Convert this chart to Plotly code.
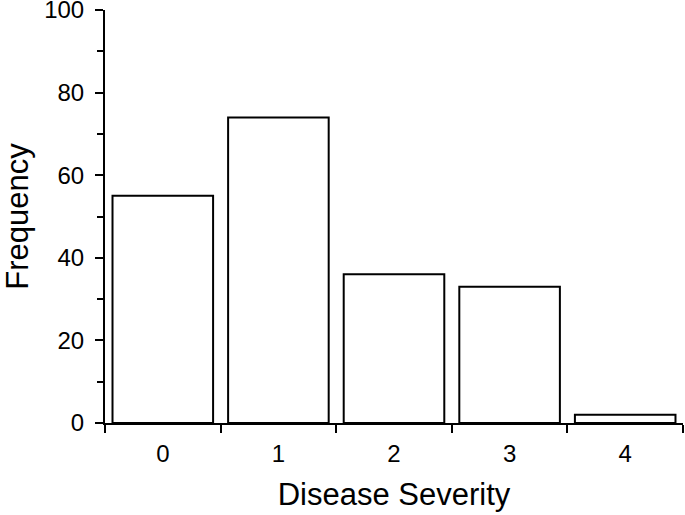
import plotly.graph_objects as go

categories = [0, 1, 2, 3, 4]
tick_labels = ["0", "1", "2", "3", "4"]
frequency = [55, 74, 36, 33, 2]

fig = go.Figure(
    go.Bar(
        x=categories,
        y=frequency,
        marker=dict(color="white", line=dict(color="black", width=2)),
    )
)

font = "Liberation Sans, Arial, sans-serif"
fig.update_layout(
    width=685,
    height=515,
    margin=dict(l=105, r=2, t=10, b=92),
    paper_bgcolor="white",
    plot_bgcolor="white",
    bargap=0.13,
    showlegend=False,
    font=dict(family=font, color="black", size=24),
)
fig.update_xaxes(
    automargin=False,
    range=[-0.5, 4.5],
    tickmode="array",
    tickvals=categories,
    ticktext=tick_labels,
    ticks="",
    showgrid=False,
    zeroline=False,
    showline=True,
    linecolor="black",
    linewidth=2,
    tickfont=dict(size=24),
    ticklabelstandoff=8,
    ticklabeloverflow="allow",
    minor=dict(
        tickmode="linear",
        tick0=-0.5,
        dtick=1,
        ticks="outside",
        ticklen=8,
        tickwidth=2,
        tickcolor="black",
        showgrid=False,
    ),
    title=dict(text="Disease Severity", font=dict(size=31), standoff=18),
)
fig.update_yaxes(
    automargin=False,
    range=[0, 100],
    tickmode="linear",
    tick0=0,
    dtick=20,
    ticks="outside",
    ticklen=8,
    tickwidth=2,
    tickcolor="black",
    showgrid=False,
    zeroline=False,
    showline=True,
    linecolor="black",
    linewidth=2,
    tickfont=dict(size=24),
    ticklabelstandoff=6,
    ticklabeloverflow="allow",
    minor=dict(
        tickmode="linear",
        tick0=10,
        dtick=20,
        ticks="outside",
        ticklen=6,
        tickwidth=2,
        tickcolor="black",
        showgrid=False,
    ),
    title=dict(text="Frequency", font=dict(size=31), standoff=10),
)

fig.write_html(
    "out.html",
    config={"displayModeBar": False},
    post_script="document.body.style.margin='0';document.body.style.padding='0';",
)
